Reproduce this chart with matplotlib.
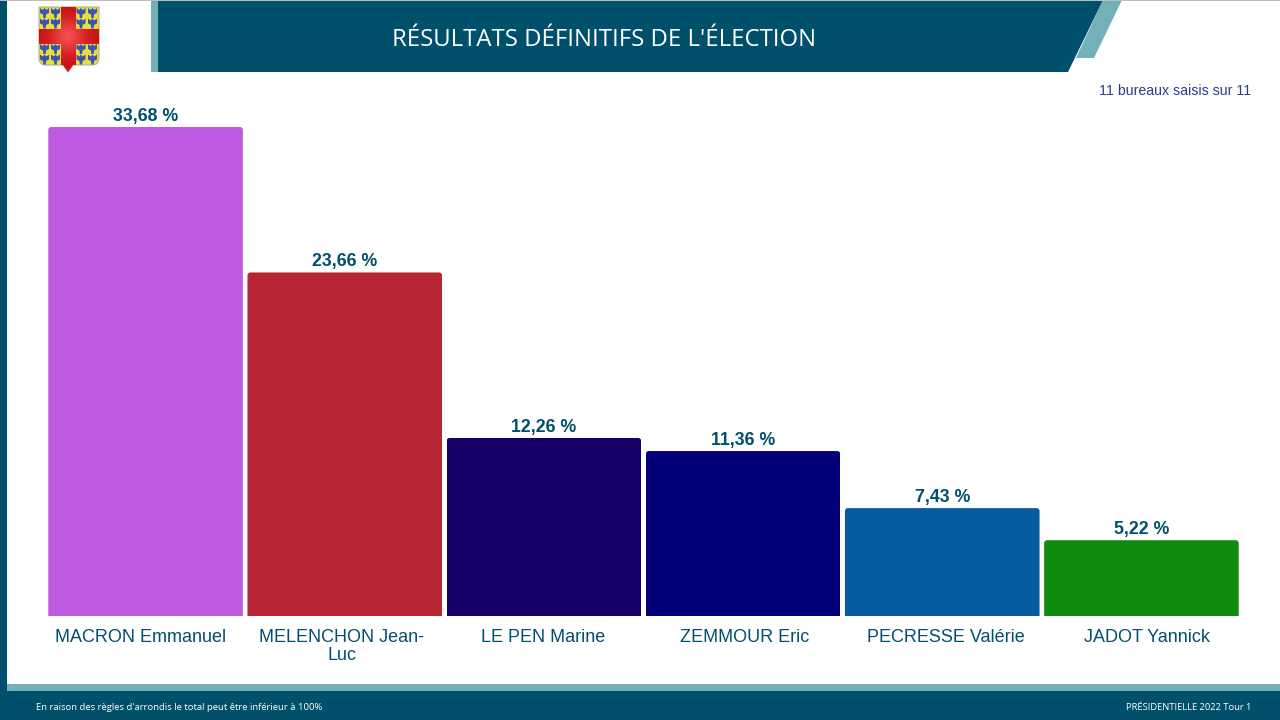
import numpy as np
import matplotlib
matplotlib.use('Agg')
import matplotlib.pyplot as plt
from matplotlib.patches import Polygon, Rectangle, FancyBboxPatch, PathPatch
from matplotlib.path import Path

candidats = ['MACRON Emmanuel', 'MELENCHON Jean-\nLuc', 'LE PEN Marine',
             'ZEMMOUR Eric', 'PECRESSE Valérie', 'JADOT Yannick']
scores = [33.68, 23.66, 12.26, 11.36, 7.43, 5.22]
score_labels = ['33,68 %', '23,66 %', '12,26 %', '11,36 %', '7,43 %', '5,22 %']
couleurs = ['#BF5AE0', '#B72433', '#160067', '#04007A', '#055AA0', '#0F8C0E']

DARK = '#00506B'
LIGHT = '#74B0B8'
W, H = 1280, 720

plt.rcParams['font.family'] = ['Liberation Sans', 'DejaVu Sans']

fig = plt.figure(figsize=(12.8, 7.2), dpi=100, facecolor='white')

# page furniture, in pixels with y going down
bg = fig.add_axes([0, 0, 1, 1])
bg.axis('off')

bg.add_patch(Rectangle((0, 0), 7, H, color=DARK, lw=0))
bg.add_patch(Rectangle((7, 684), W, 7, color=LIGHT, lw=0))
bg.add_patch(Rectangle((7, 691), W, 29, color=DARK, lw=0))
bg.add_patch(Rectangle((151, 0), 7, 72, color=LIGHT, lw=0))
bg.add_patch(Polygon([(1103, 0), (1122, 0), (1094, 58), (1076, 58)], color=LIGHT, lw=0))
bg.add_patch(Polygon([(158, 0), (1103, 0), (1068, 72), (158, 72)], color=DARK, lw=0))
bg.add_patch(Rectangle((0, 0), W, 1, color='#BDBDBD', lw=0, zorder=5))

bg.text(604, 40, "RÉSULTATS DÉFINITIFS DE L'ÉLECTION", color='white', fontsize=17.2,
        family=['Open Sans', 'DejaVu Sans'], ha='center', va='center')
bg.text(1251, 91, '11 bureaux saisis sur 11', color='#2E3A8C', fontsize=10.2,
        ha='right', va='center')
bg.text(36, 707, "En raison des règles d'arrondis le total peut être inférieur à 100%",
        color='white', fontsize=6.8, family=['Open Sans', 'DejaVu Sans'], ha='left', va='center')
bg.text(1251, 707, 'PRÉSIDENTIELLE 2022 Tour 1', color='white', fontsize=6.75,
        family=['Open Sans', 'DejaVu Sans'], ha='right', va='center')

# blason
shield = Path([(39, 7), (99, 7), (99, 58), (99, 65), (92, 65), (73, 65), (68, 72), (63, 65),
               (46, 65), (39, 65), (39, 58), (39, 7)],
              [Path.MOVETO, Path.LINETO, Path.LINETO, Path.CURVE3, Path.CURVE3, Path.LINETO,
               Path.LINETO, Path.LINETO, Path.LINETO, Path.CURVE3, Path.CURVE3, Path.CLOSEPOLY])
bg.add_patch(PathPatch(shield, facecolor='#ECDD3F', edgecolor='#B5B08A', lw=0.8, zorder=2))
eagle = [(-4.5, -5), (-1.8, -3), (0, -5), (1.8, -3), (4.5, -5), (4.5, 0), (1.5, 1.5), (1.2, 5),
         (-1.2, 5), (-1.5, 1.5), (-4.5, 0)]
for ex in [44.5, 55.5, 81, 92.5]:
    for ey in [13, 23.5, 49, 59.5]:
        bg.add_patch(Polygon([(ex + a, ey + b) for a, b in eagle], color='#3A55B0', lw=0, zorder=3))
yy, xx = np.mgrid[7:72:130j, 39:99:120j]
glow = np.exp(-((xx - 68) ** 2 + (yy - 36) ** 2) / 300)
rouge = np.zeros(xx.shape + (3,))
rouge[..., 0] = 0.80 + 0.15 * glow
rouge[..., 1] = 0.06 + 0.24 * glow
rouge[..., 2] = 0.08 + 0.24 * glow
im = bg.imshow(rouge, extent=(39, 99, 72, 7), zorder=4, aspect='auto')
croix = Path([(61, 7), (76, 7), (76, 29), (99, 29), (99, 44), (76, 44), (76, 65), (73, 65), (68, 72),
              (63, 65), (61, 65), (61, 44), (39, 44), (39, 29), (61, 29), (61, 7)])
im.set_clip_path(croix, bg.transData)
bg.set_xlim(0, W)
bg.set_ylim(H, 0)

# bar chart: baseline at y=616, 14.52 px per point, 199.17 px per candidate
ax = fig.add_axes([46 / W, (H - 616) / H, 1195 / W, 520 / H])
ax.patch.set_alpha(0)
x = np.arange(len(candidats))
bars = ax.bar(x, scores, width=0.977, color=couleurs, linewidth=0)
ax.set_xlim(-0.5, 5.5)
ax.set_ylim(0, 520 / 14.52)

aspect = 199.17 / 14.52
rx = 3 / 199.17
for b in bars:
    clip = FancyBboxPatch((b.get_x() + rx, -1), b.get_width() - 2 * rx, b.get_height() + 1 - 3 / 14.52,
                          boxstyle='round,pad=%f,rounding_size=%f' % (rx, rx),
                          mutation_aspect=aspect, transform=ax.transData)
    b.set_clip_path(clip)

ax.bar_label(bars, labels=score_labels, padding=1.7, color=DARK, fontsize=12.8, fontweight='bold')
# the category labels are spaced a little wider than the bars in the original
ax.set_xticks(-0.0255 + x * 1.0107)
ax.set_xticklabels(candidats, color=DARK, fontsize=13, linespacing=1.1, va='top')
ax.tick_params(axis='x', length=0, pad=9.5)
ax.set_yticks([])
for s in ax.spines.values():
    s.set_visible(False)

fig.savefig('out.png', dpi=100)
